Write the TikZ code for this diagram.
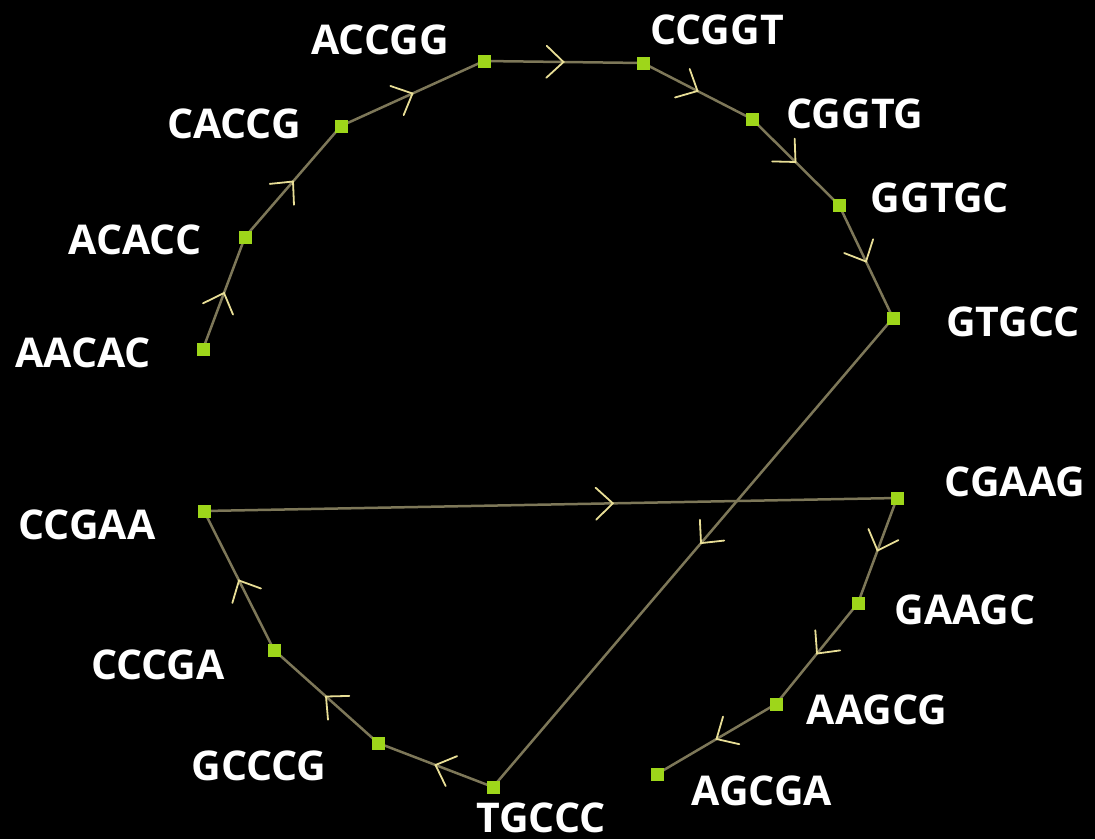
\documentclass[tikz,border=0pt]{standalone}
\usepackage{fontspec}
\setmainfont{Open Sans}
\usetikzlibrary{decorations.markings}
\definecolor{vertexgreen}{RGB}{158,214,26}
\definecolor{edgeolive}{RGB}{125,119,88}
\definecolor{chevron}{RGB}{232,222,150}
\tikzset{
  kmer/.style={rectangle, fill=vertexgreen, minimum size=13pt, inner sep=0pt},
  kmerlabel/.style={text=white, font=\bfseries\fontsize{41}{41}\selectfont, inner sep=0pt},
  overlap/.style={draw=edgeolive, line width=2.5pt, postaction={decorate},
    decoration={markings, mark=at position #1 with {
      \draw[chevron, line width=1.8pt, line cap=round, line join=miter]
        (-17pt,16pt) -- (0pt,0pt) -- (-17pt,-16pt);}}},
  overlap/.default=0.5
}
\begin{document}
\begin{tikzpicture}[x=1pt, y=-1pt]
\fill[black] (0,0) rectangle (1095,839);
\useasboundingbox (0,0) rectangle (1095,839);

% vertices of the de Bruijn path
\coordinate (AACAC) at (203,349);
\coordinate (ACACC) at (245,237);
\coordinate (CACCG) at (341,126);
\coordinate (ACCGG) at (484,61);
\coordinate (CCGGT) at (643,63);
\coordinate (CGGTG) at (752,119);
\coordinate (GGTGC) at (839,205);
\coordinate (GTGCC) at (893,318);
\coordinate (TGCCC) at (493,787);
\coordinate (GCCCG) at (378,743);
\coordinate (CCCGA) at (274,650);
\coordinate (CCGAA) at (204,511);
\coordinate (CGAAG) at (897,498);
\coordinate (GAAGC) at (858,603);
\coordinate (AAGCG) at (776,704);
\coordinate (AGCGA) at (657,774);

% labels
\node[kmerlabel] (lAACAC) at (83,353) {AACAC};
\node[kmerlabel] (lACACC) at (135,240) {ACACC};
\node[kmerlabel] (lCACCG) at (234,124) {CACCG};
\node[kmerlabel] (lACCGG) at (380,40) {ACCGG};
\node[kmerlabel] (lCCGGT) at (717,30) {CCGGT};
\node[kmerlabel] (lCGGTG) at (855,114) {CGGTG};
\node[kmerlabel] (lGGTGC) at (940,198) {GGTGC};
\node[kmerlabel] (lGTGCC) at (1013,322) {GTGCC};
\node[kmerlabel] (lCGAAG) at (1015,482) {CGAAG};
\node[kmerlabel] (lCCGAA) at (87,525) {CCGAA};
\node[kmerlabel] (lGAAGC) at (965,610) {GAAGC};
\node[kmerlabel] (lCCCGA) at (158,665) {CCCGA};
\node[kmerlabel] (lAAGCG) at (877,710) {AAGCG};
\node[kmerlabel] (lGCCCG) at (259,766) {GCCCG};
\node[kmerlabel] (lAGCGA) at (762,791) {AGCGA};
\node[kmerlabel] (lTGCCC) at (541,818) {TGCCC};

% directed overlap edges
\draw[overlap] (AACAC) -- (ACACC);
\draw[overlap] (ACACC) -- (CACCG);
\draw[overlap] (CACCG) -- (ACCGG);
\draw[overlap] (ACCGG) -- (CCGGT);
\draw[overlap] (CCGGT) -- (CGGTG);
\draw[overlap] (CGGTG) -- (GGTGC);
\draw[overlap] (GGTGC) -- (GTGCC);
\draw[overlap=0.48] (GTGCC) -- (TGCCC);
\draw[overlap] (TGCCC) -- (GCCCG);
\draw[overlap] (GCCCG) -- (CCCGA);
\draw[overlap] (CCCGA) -- (CCGAA);
\draw[overlap=0.59] (CCGAA) -- (CGAAG);
\draw[overlap] (CGAAG) -- (GAAGC);
\draw[overlap] (GAAGC) -- (AAGCG);
\draw[overlap] (AAGCG) -- (AGCGA);

% vertex squares on top of the edges
\foreach \v in {AACAC,ACACC,CACCG,ACCGG,CCGGT,CGGTG,GGTGC,GTGCC,TGCCC,GCCCG,CCCGA,CCGAA,CGAAG,GAAGC,AAGCG,AGCGA}
  \node[kmer] (v\v) at (\v) {};
\end{tikzpicture}
\end{document}
